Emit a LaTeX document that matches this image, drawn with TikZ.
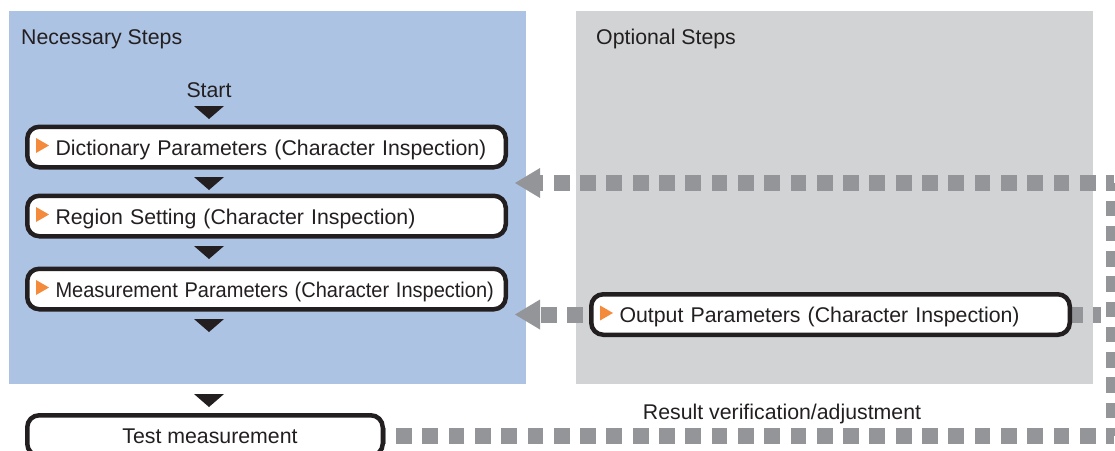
\documentclass[tikz,border=0pt]{standalone}
\usepackage{fontspec}
\setmainfont{Liberation Sans}
\usepackage{xcolor}
\usepackage{tikz}
\usetikzlibrary{positioning,arrows.meta,backgrounds}

\definecolor{needblue}{RGB}{173,195,228}
\definecolor{optgray}{RGB}{209,211,212}
\definecolor{dotgray}{RGB}{147,149,152}
\definecolor{markorange}{RGB}{244,138,60}
\definecolor{inkblack}{RGB}{35,31,32}

\newcommand{\orangemark}{\tikz[x=1pt,y=1pt,baseline=-2pt,sharp corners]\fill[markorange] (0,0) -- (0,15) -- (13,7.5) -- cycle;\hspace{6.5pt}}

\begin{document}
\begin{tikzpicture}[
        x=1pt, y=-1pt,
        every node/.style={
            font=\fontsize{21.3}{25}\selectfont,
            text=inkblack
        },
        title/.style={
            anchor=base west,
            inner sep=0pt
        },
        caption/.style={
            anchor=base,
            inner sep=0pt
        },
        stepbox/.style={
            draw=inkblack,
            line width=4.5pt,
            rounded corners=12pt,
            fill=white,
            align=left,
            text width=461pt,
            inner xsep=8.75pt,
            text height=17pt,
            text depth=1pt,
            minimum height=40.5pt
        },
        testbox/.style={
            draw=inkblack,
            line width=4.5pt,
            rounded corners=12pt,
            fill=white,
            text height=17pt,
            text depth=1pt,
            minimum width=355.5pt,
            minimum height=40.5pt
        },
        marker/.style={fill=inkblack},
        dotline/.style={
            draw=dotgray,
            line width=16pt,
            dash pattern=on 15.8pt off 10.5pt,
            dash phase=7.9pt
        },
        backarrow/.style={
            dotline,
            -{Triangle[length=25pt,width=30pt,line width=0pt]},
            shorten >=7pt
        }
    ]
        \useasboundingbox (0,0) rectangle (1115,450);

        \node[title] (need) at (21,44) {Necessary Steps};
        \node[title] (opt) at (596,44) {Optional Steps};
        \node[caption] (start) at (209,97) {Start};

        \node[stepbox] (dict) at (266.5,147) {\orangemark Dictionary Parameters (Character Inspection)};
        \node[stepbox, below=24pt of dict] (region) {\orangemark Region Setting (Character Inspection)};
        \node[stepbox, below=28pt of region] (meas) {\orangemark\scalebox{0.94}[1]{Measurement Parameters (Character Inspection)}};
        \node[stepbox] (output) at (830.5,314.5) {\orangemark Output Parameters (Character Inspection)};
        \node[testbox] (test) at (205,435.5) {\hspace{10pt}Test measurement};

        \node[caption] (result) at (782,419) {Result verification/adjustment};

        % down markers between the steps
        \foreach \y in {106,177,246,319,394}
            \fill[marker] (194,\y) -- (224,\y) -- (209,\y+13) -- cycle;

        \coordinate (ct) at (1114,183);
        \coordinate (cb) at (ct |- test.east);
        \coordinate (cm) at (1101,314.5);

        \begin{scope}[on background layer]
            \fill[needblue] (9,11) rectangle (526,384);
            \fill[optgray] (576,11) rectangle (1093,384);

            \draw[dotline] (cb) -- (test.east);
            \draw[dotline, dash pattern=on 15.5pt off 9.75pt, dash phase=7.75pt] (ct) -- (cb);
            \draw[backarrow] (ct) -- (dict.east |- ct);
            \draw[backarrow] (cm) -- (meas.east |- cm);
        \end{scope}
    \end{tikzpicture}
\end{document}
